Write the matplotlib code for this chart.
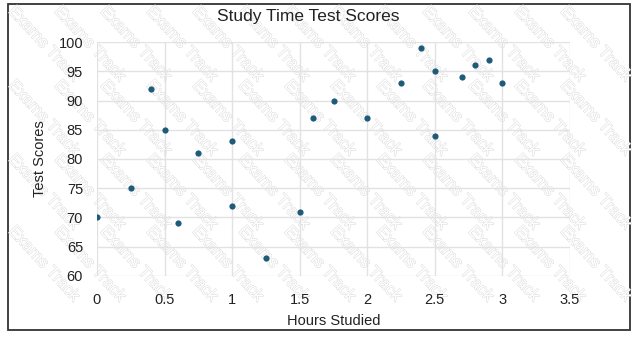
import matplotlib

matplotlib.use("Agg")
import matplotlib.pyplot as plt
import matplotlib.patheffects as pe
from matplotlib.patches import Rectangle

plt.rcParams["font.family"] = ["Liberation Sans", "DejaVu Sans"]

hours = [0, 0.25, 0.4, 0.5, 0.6, 0.75, 1, 1, 1.25, 1.5, 1.6, 1.75,
         2, 2.25, 2.4, 2.5, 2.5, 2.7, 2.8, 2.9, 3]
scores = [70, 75, 92, 85, 69, 81, 83, 72, 63, 71, 87, 90,
          87, 93, 99, 95, 84, 94, 96, 97, 93]
x_ticks = [0, 0.5, 1, 1.5, 2, 2.5, 3, 3.5]
x_tick_labels = ["0", "0.5", "1", "1.5", "2", "2.5", "3", "3.5"]
y_ticks = [60, 65, 70, 75, 80, 85, 90, 95, 100]

W, H = 638, 338
fig = plt.figure(figsize=(W / 100, H / 100), dpi=100)
ax = fig.add_axes([97 / W, 1 - 276 / H, (570 - 97) / W, (276 - 42) / H])
ax.set_zorder(2)
ax.patch.set_alpha(0)

ax.scatter(hours, scores, s=20, color="#1d5b78", zorder=3, linewidths=0)

ax.set_xlim(0, 3.5)
ax.set_ylim(60, 100)
ax.set_xticks(x_ticks)
ax.set_xticklabels(x_tick_labels)
ax.set_yticks(y_ticks)
ax.grid(True, color="#e2e2e2", linewidth=1)
ax.set_axisbelow(True)
for s in ax.spines.values():
    s.set_visible(False)
ax.tick_params(length=0, labelsize=10.5, colors="#222222", pad=10)
ax.tick_params(axis="x", pad=12)
ax.set_xlabel("Hours Studied", fontsize=10.5, color="#222222", labelpad=5)
ax.set_ylabel("Test Scores", fontsize=10.5, color="#222222", labelpad=8)

fig.text(308 / W, 1 - 16 / H, "Study Time Test Scores", ha="center", va="center",
         fontsize=12.5, color="#222222")

# outer frame
fig.patches.append(Rectangle((8 / W, 1 - 330 / H), 622 / W, 326 / H,
                             transform=fig.transFigure, fill=False,
                             edgecolor="#333333", linewidth=1.3))

# faint outlined watermark, only copies that fit inside the figure
marks = []
for py in [44, 118, 192, 264]:
    for col in range(14):
        px = 44 + col * 46
        t = fig.text(px / W, 1 - py / H, "Exams Track", rotation=-47,
                     ha="center", va="center", fontsize=12, color="white",
                     zorder=1,
                     path_effects=[pe.withStroke(linewidth=0.7, foreground="#dadada")])
        marks.append(t)

fig.canvas.draw()
renderer = fig.canvas.get_renderer()
for t in marks:
    bb = t.get_window_extent(renderer)
    if bb.x0 < 0 or bb.y0 < 0 or bb.x1 > W or bb.y1 > H:
        t.remove()

fig.savefig("out.png", dpi=100)
